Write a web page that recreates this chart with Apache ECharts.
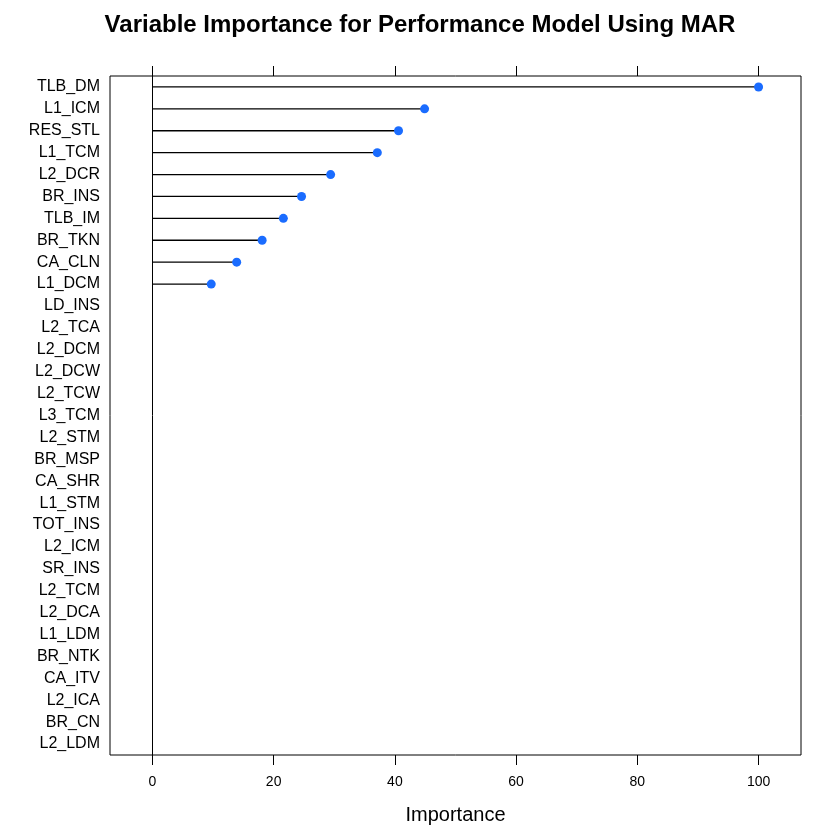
<!DOCTYPE html>
<html>
<head>
<meta charset="utf-8">
<script src="https://cdn.jsdelivr.net/npm/echarts@6/dist/echarts.min.js"></script>
<style>
  html, body { margin: 0; padding: 0; background: #fff; }
  #chart { width: 840px; height: 840px; }
</style>
</head>
<body>
<div id="chart"></div>
<script>
// variables, top to bottom
var variables = ['TLB_DM', 'L1_ICM', 'RES_STL', 'L1_TCM', 'L2_DCR', 'BR_INS', 'TLB_IM', 'BR_TKN',
  'CA_CLN', 'L1_DCM', 'LD_INS', 'L2_TCA', 'L2_DCM', 'L2_DCW', 'L2_TCW', 'L3_TCM', 'L2_STM',
  'BR_MSP', 'CA_SHR', 'L1_STM', 'TOT_INS', 'L2_ICM', 'SR_INS', 'L2_TCM', 'L2_DCA', 'L1_LDM',
  'BR_NTK', 'CA_ITV', 'L2_ICA', 'BR_CN', 'L2_LDM'];
// importance values (same order)
var importance = [100, 44.9, 40.6, 37.1, 29.4, 24.6, 21.6, 18.1, 13.9, 9.7,
  0, 0, 0, 0, 0, 0, 0, 0, 0, 0, 0, 0, 0, 0, 0, 0, 0, 0, 0, 0, 0];
var xTicks = [0, 20, 40, 60, 80, 100];

var chart = echarts.init(document.getElementById('chart'));
var font = '"Liberation Sans", Arial, Helvetica, sans-serif';

chart.setOption({
  backgroundColor: '#fff',
  animation: false,
  title: {
    text: 'Variable Importance for Performance Model Using MAR',
    left: 'center',
    top: 8,
    textStyle: { fontFamily: font, fontWeight: 'bold', fontSize: 24, color: '#000' }
  },
  grid: {
    left: 110, right: 39, top: 76, bottom: 85,
    show: true, borderColor: '#000', borderWidth: 1, backgroundColor: 'transparent'
  },
  xAxis: [{
    type: 'value', position: 'bottom', min: -7, max: 107,
    name: 'Importance', nameLocation: 'middle', nameGap: 50,
    nameTextStyle: { fontFamily: font, fontSize: 20, color: '#000' },
    axisLine: { show: false },
    axisTick: { show: true, length: 10, lineStyle: { color: '#000', width: 1 }, customValues: xTicks },
    axisLabel: { show: true, margin: 20, fontFamily: font, fontSize: 14, color: '#000', customValues: xTicks },
    splitLine: { show: false }
  }, {
    type: 'value', position: 'top', min: -7, max: 107,
    axisLine: { show: false },
    axisTick: { show: true, length: 10, lineStyle: { color: '#000', width: 1 }, customValues: xTicks },
    axisLabel: { show: false },
    splitLine: { show: false }
  }],
  yAxis: {
    type: 'category', data: variables, inverse: true,
    axisLine: { show: false },
    axisTick: { show: false },
    axisLabel: { margin: 10, fontFamily: font, fontSize: 16, color: '#000' },
    splitLine: { show: false }
  },
  series: [{
    type: 'bar',
    data: importance,
    barWidth: 1.3,
    itemStyle: { color: '#000' },
    markLine: {
      silent: true, symbol: 'none', label: { show: false },
      lineStyle: { color: '#000', width: 1, type: 'solid' },
      data: [{ xAxis: 0 }]
    }
  }, {
    type: 'scatter',
    data: importance,
    symbol: 'circle',
    symbolSize: function (v) { return v > 0 ? 9 : 0; },
    itemStyle: { color: '#1a6cff', opacity: 1 },
    z: 5
  }]
});
</script>
</body>
</html>
